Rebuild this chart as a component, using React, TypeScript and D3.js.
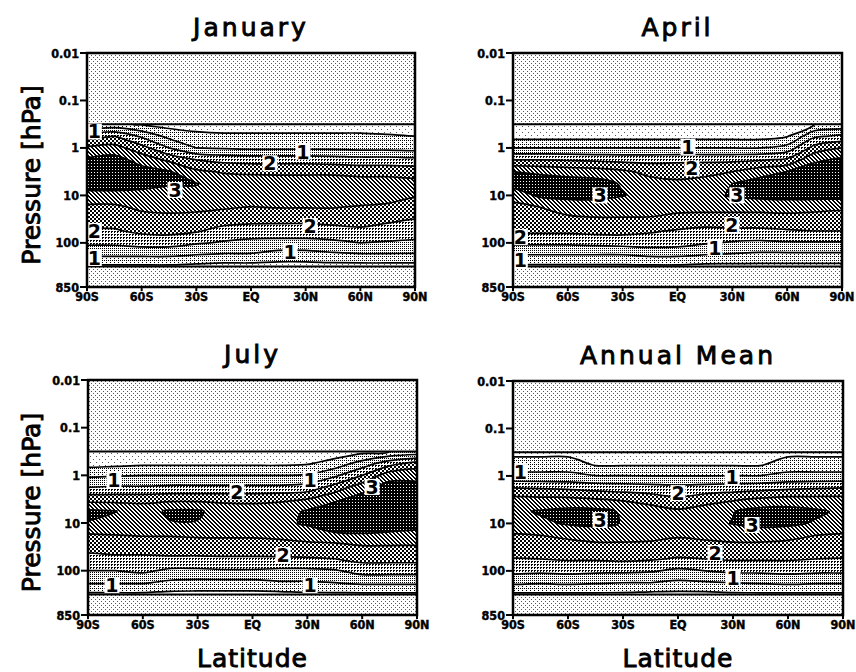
import React from "react";
import * as d3 from "d3";

const W = 856;
const H = 672;

// grid: latitude columns and pressure rows (log10 hPa), data region 0.3 .. 300 hPa
const LATS = [-90, -75, -60, -45, -30, -15, 0, 15, 30, 45, 60, 75, 90];
const LOG_P = [-0.5, -0.25, 0, 0.25, 0.5, 0.75, 1, 1.25, 1.5, 1.75, 2, 2.25, 2.5];
const LEVELS = [0.5, 1, 1.5, 2, 2.5, 3];

const P_TICKS = [0.01, 0.1, 1, 10, 100, 850];
const P_LABELS = ["0.01", "0.1", "1", "10", "100", "850"];
const LAT_TICKS = [-90, -60, -30, 0, 30, 60, 90];
const LAT_LABELS = ["90S", "60S", "30S", "EQ", "30N", "60N", "90N"];

// one array per latitude column (90S..90N), values from 0.3 hPa down to 300 hPa
const JANUARY = [
  [0.4, 1.8, 2.6, 3.1, 3.4, 3.3, 2.8, 2.4, 2.2, 1.95, 1.6, 1.1, 0.4],
  [0.6, 2.0, 2.7, 3.2, 3.4, 3.3, 2.8, 2.4, 2.2, 1.95, 1.6, 1.1, 0.4],
  [0.45, 1.4, 2.2, 2.8, 3.2, 3.2, 2.8, 2.6, 2.3, 2.1, 1.7, 1.1, 0.4],
  [0.3, 0.85, 1.5, 2.4, 3.05, 3.05, 2.8, 2.6, 2.4, 2.15, 1.7, 1.1, 0.4],
  [0.25, 0.65, 1.0, 2.0, 2.6, 3.02, 2.9, 2.6, 2.35, 2.05, 1.55, 1.0, 0.35],
  [0.2, 0.6, 0.95, 1.85, 2.45, 2.8, 2.85, 2.55, 2.25, 1.8, 1.45, 0.95, 0.3],
  [0.2, 0.6, 0.9, 1.8, 2.4, 2.8, 2.9, 2.48, 2.2, 1.7, 1.4, 0.95, 0.3],
  [0.2, 0.6, 0.9, 1.8, 2.4, 2.75, 2.85, 2.52, 2.15, 1.75, 1.35, 0.8, 0.3],
  [0.2, 0.6, 0.9, 1.8, 2.4, 2.75, 2.85, 2.52, 2.15, 1.75, 1.35, 0.8, 0.3],
  [0.2, 0.6, 0.9, 1.75, 2.4, 2.75, 2.85, 2.52, 2.2, 1.8, 1.4, 0.9, 0.3],
  [0.2, 0.6, 0.85, 1.7, 2.35, 2.7, 2.8, 2.45, 2.2, 1.9, 1.5, 0.95, 0.3],
  [0.2, 0.55, 0.85, 1.7, 2.35, 2.7, 2.7, 2.4, 2.1, 1.8, 1.45, 0.95, 0.3],
  [0.2, 0.5, 0.8, 1.65, 2.3, 2.65, 2.55, 2.25, 2.0, 1.75, 1.4, 0.95, 0.3],
];

const APRIL = [
  [0.1, 0.3, 1.0, 2.0, 3.0, 3.2, 2.7, 2.35, 2.2, 2.1, 1.6, 1.0, 0.4],
  [0.1, 0.3, 1.0, 2.0, 2.9, 3.3, 3.1, 2.5, 2.25, 2.1, 1.6, 1.0, 0.4],
  [0.1, 0.3, 1.0, 1.95, 2.8, 3.25, 3.15, 2.7, 2.4, 2.1, 1.6, 1.0, 0.4],
  [0.1, 0.3, 1.0, 1.9, 2.75, 3.2, 3.15, 2.75, 2.45, 2.15, 1.65, 1.0, 0.4],
  [0.1, 0.3, 1.0, 1.85, 2.6, 2.95, 3.02, 2.75, 2.45, 2.15, 1.7, 1.0, 0.4],
  [0.1, 0.3, 1.0, 1.85, 2.35, 2.7, 2.85, 2.7, 2.45, 2.05, 1.75, 1.1, 0.4],
  [0.1, 0.3, 1.0, 1.9, 2.3, 2.6, 2.8, 2.65, 2.35, 1.95, 1.7, 1.1, 0.4],
  [0.1, 0.3, 1.0, 1.9, 2.35, 2.7, 2.85, 2.65, 2.3, 1.85, 1.55, 1.0, 0.35],
  [0.1, 0.3, 1.0, 1.9, 2.5, 3.0, 3.05, 2.65, 2.3, 1.9, 1.45, 0.95, 0.35],
  [0.1, 0.3, 1.0, 1.95, 2.8, 3.2, 3.15, 2.65, 2.3, 1.9, 1.4, 0.9, 0.35],
  [0.15, 0.45, 1.2, 2.1, 3.0, 3.3, 3.2, 2.65, 2.35, 1.95, 1.45, 0.9, 0.35],
  [0.5, 1.4, 2.2, 2.9, 3.3, 3.4, 3.2, 2.6, 2.35, 2.0, 1.45, 0.9, 0.35],
  [0.6, 1.6, 2.5, 3.1, 3.4, 3.4, 3.2, 2.55, 2.35, 2.0, 1.45, 0.9, 0.35],
];

const JULY = [
  [0.1, 0.3, 0.9, 1.5, 2.3, 3.08, 2.98, 2.45, 2.05, 1.95, 1.5, 1.05, 0.4],
  [0.1, 0.35, 0.95, 1.55, 2.3, 3.01, 2.9, 2.5, 2.1, 1.95, 1.5, 1.05, 0.4],
  [0.1, 0.4, 1.0, 1.55, 2.3, 2.85, 2.85, 2.55, 2.1, 1.95, 1.6, 1.05, 0.4],
  [0.1, 0.4, 1.0, 1.6, 2.35, 3.06, 2.98, 2.55, 2.15, 1.95, 1.4, 0.9, 0.35],
  [0.1, 0.4, 1.0, 1.6, 2.35, 3.06, 2.98, 2.6, 2.15, 1.95, 1.4, 0.85, 0.35],
  [0.1, 0.4, 1.0, 1.6, 2.35, 2.8, 2.8, 2.6, 2.2, 1.95, 1.45, 0.85, 0.35],
  [0.1, 0.4, 1.0, 1.6, 2.35, 2.75, 2.8, 2.6, 2.2, 1.95, 1.45, 0.85, 0.35],
  [0.1, 0.4, 1.0, 1.6, 2.4, 2.8, 2.85, 2.65, 2.25, 1.95, 1.4, 0.95, 0.35],
  [0.1, 0.45, 1.05, 1.7, 2.5, 3.05, 3.08, 2.7, 2.35, 1.95, 1.4, 0.95, 0.4],
  [0.2, 0.7, 1.4, 2.2, 2.9, 3.3, 3.35, 2.9, 2.3, 2.0, 1.45, 1.0, 0.4],
  [0.35, 1.2, 2.0, 2.8, 3.2, 3.4, 3.35, 2.95, 2.45, 2.15, 1.7, 1.1, 0.4],
  [0.5, 1.8, 2.8, 3.2, 3.4, 3.4, 3.3, 2.9, 2.45, 2.15, 1.7, 1.1, 0.4],
  [0.6, 2.2, 2.9, 3.1, 3.3, 3.35, 3.2, 2.85, 2.45, 2.15, 1.7, 1.1, 0.4],
];

const ANNUAL = [
  [0.3, 0.8, 1.1, 2.0, 2.7, 2.9, 2.8, 2.45, 2.25, 1.98, 1.65, 1.1, 0.4],
  [0.3, 0.8, 1.1, 1.95, 2.65, 3.05, 2.9, 2.5, 2.25, 2.0, 1.6, 1.05, 0.4],
  [0.3, 0.8, 1.1, 1.9, 2.65, 3.15, 3.05, 2.6, 2.3, 2.05, 1.65, 1.1, 0.4],
  [0.15, 0.42, 1.02, 1.8, 2.55, 3.15, 3.1, 2.7, 2.35, 2.05, 1.6, 1.05, 0.4],
  [0.15, 0.42, 1.02, 1.75, 2.45, 2.95, 2.98, 2.7, 2.35, 2.1, 1.6, 1.0, 0.4],
  [0.15, 0.42, 1.0, 1.7, 2.3, 2.75, 2.85, 2.65, 2.35, 2.05, 1.55, 1.0, 0.35],
  [0.15, 0.42, 1.0, 1.65, 2.1, 2.6, 2.8, 2.55, 2.3, 1.95, 1.4, 0.9, 0.35],
  [0.15, 0.42, 1.0, 1.7, 2.3, 2.75, 2.85, 2.6, 2.35, 2.0, 1.5, 0.95, 0.35],
  [0.15, 0.42, 1.02, 1.75, 2.45, 2.98, 3.02, 2.7, 2.35, 2.05, 1.6, 1.0, 0.4],
  [0.15, 0.42, 1.02, 1.8, 2.6, 3.2, 3.15, 2.7, 2.35, 2.05, 1.6, 1.05, 0.4],
  [0.3, 0.8, 1.1, 1.9, 2.7, 3.2, 3.1, 2.65, 2.3, 2.05, 1.65, 1.1, 0.4],
  [0.3, 0.8, 1.1, 1.95, 2.7, 3.08, 2.95, 2.5, 2.25, 2.0, 1.6, 1.05, 0.4],
  [0.3, 0.8, 1.1, 2.0, 2.7, 2.92, 2.8, 2.45, 2.25, 1.98, 1.6, 1.05, 0.4],
];

// contour labels: text, latitude, pressure (hPa)
const JAN_LABELS: [string, number, number][] = [
  ["1", -86, 0.45], ["2", -86, 56], ["1", -86, 208], ["1", 28.5, 1.2],
  ["2", 10.4, 2.1], ["3", -41.7, 7.7], ["2", 32.4, 44], ["1", 21.4, 155],
];
const APR_LABELS: [string, number, number][] = [
  ["1", 5.7, 0.95], ["2", 7.9, 2.7], ["3", -42.4, 10], ["3", 32.5, 10],
  ["2", 29.8, 42], ["1", 20.5, 128], ["2", -86, 75], ["1", -86, 230],
];
const JUL_LABELS: [string, number, number][] = [
  ["1", -75.8, 1.25], ["1", 31.5, 1.25], ["2", -8.5, 2.2], ["3", 65.4, 1.75],
  ["2", 16.7, 47], ["1", -76.9, 199], ["1", 31.5, 199],
];
const ANN_LABELS: [string, number, number][] = [
  ["1", -86, 0.83], ["1", 29.5, 1.05], ["2", 0, 2.3], ["3", -42.5, 8.5],
  ["3", 40.4, 10.8], ["2", 20.2, 42], ["1", 30, 141],
];

const TICK_FONT = '"DejaVu Sans Condensed", "DejaVu Sans", sans-serif';
const TITLE_FONT = '"DejaVu Sans", Verdana, sans-serif';

const dot = (x: number, y: number, fill = "#000", w = 1, h = 1) => (
  <rect key={`${x}-${y}-${w}`} x={x} y={y} width={w} height={h} fill={fill} />
);

function Patterns() {
  const pat = (id: string, size: number, bg: string, cells: JSX.Element[]) => (
    <pattern id={id} width={size} height={size} patternUnits="userSpaceOnUse">
      <g shapeRendering="crispEdges">
        <rect width={size} height={size} fill={bg} />
        {cells}
      </g>
    </pattern>
  );
  return (
    <defs>
      {pat("p-out", 4, "#fff", [dot(1, 1, "#555"), dot(3, 3, "#555")])}
      {pat("band0", 6, "#fff", [dot(0, 0, "#555"), dot(3, 3, "#555")])}
      {pat("band1", 4, "#fff", [dot(0, 0), dot(2, 2), dot(2, 0)])}
      {pat("band2", 2, "#fff", [dot(0, 0)])}
      {pat("band3", 3, "#fff", [dot(0, 0), dot(1, 0), dot(0, 1)])}
      {pat("band4", 4, "#fff", [dot(0, 0, "#000", 2, 2), dot(2, 2, "#000", 2, 2)])}
      {pat("band5", 4, "#fff", [0, 1, 2, 3].flatMap((i) => [dot(i, i), dot((i + 1) % 4, i)]))}
      {pat("band6", 3, "#000", [dot(1, 1, "#fff")])}
    </defs>
  );
}

type Box = { x0: number; x1: number; y0: number; y1: number };

function ContourPanel({ id, title, cols, labels, box, yTitle, xTitle }: {
  id: string; title: string; cols: number[][]; labels: [string, number, number][];
  box: Box; yTitle: boolean; xTitle: boolean;
}) {
  const { x0, x1, y0, y1 } = box;
  const x = d3.scaleLinear().domain([-90, 90]).range([x0, x1]);
  const y = d3.scaleLog().domain([0.01, 850]).range([y0, y1]);

  // pad one copy of the edge columns/rows so contour closing happens outside the plot
  const nx = cols.length + 2;
  const ny = cols[0].length + 2;
  const values: number[] = [];
  for (let j = 0; j < ny; j++) {
    const jj = Math.min(Math.max(j - 1, 0), ny - 3);
    for (let i = 0; i < nx; i++) {
      const ii = Math.min(Math.max(i - 1, 0), nx - 3);
      values.push(cols[ii][jj]);
    }
  }
  const contours = d3.contours().size([nx, ny]).thresholds(LEVELS)(values);
  const gLat = d3.scaleLinear().domain([1.5, nx - 1.5]).range([LATS[0], LATS[LATS.length - 1]]);
  const gLog = d3.scaleLinear().domain([1.5, ny - 1.5]).range([LOG_P[0], LOG_P[LOG_P.length - 1]]);
  const line = d3.line().curve(d3.curveCatmullRomClosed.alpha(0.5));
  const paths = contours.map((c) =>
    c.coordinates
      .flatMap((poly) =>
        poly.map((ring) =>
          line(ring.slice(0, -1).map(([a, b]) => [x(gLat(a)), y(Math.pow(10, gLog(b)))] as [number, number]))
        )
      )
      .join("")
  );

  const top = y(Math.pow(10, LOG_P[0]));
  const bot = y(Math.pow(10, LOG_P[LOG_P.length - 1]));
  const clipId = `clip-${id}`;
  const cx = (x0 + x1) / 2;

  return (
    <g>
      <clipPath id={clipId}>
        <rect x={x0} y={top} width={x1 - x0} height={bot - top} />
      </clipPath>
      <rect x={x0} y={y0} width={x1 - x0} height={y1 - y0} fill="url(#p-out)" />
      <g clipPath={`url(#${clipId})`}>
        <rect x={x0} y={top} width={x1 - x0} height={bot - top} fill="url(#band0)" />
        {paths.map((d, k) => (
          <path key={`f${k}`} d={d} fill={`url(#band${k + 1})`} fillRule="evenodd" />
        ))}
        {paths.map((d, k) => (
          <path key={`s${k}`} d={d} fill="none" stroke="#000" strokeWidth={1.7} />
        ))}
      </g>
      <line x1={x0} x2={x1} y1={top} y2={top} stroke="#000" strokeWidth={2} />
      <line x1={x0} x2={x1} y1={bot} y2={bot} stroke="#000" strokeWidth={2} />
      {labels.map(([t, lat, p], k) => (
        <g key={`l${k}`} transform={`translate(${x(lat)},${y(p)})`}>
          <rect x={-7.5} y={-8} width={15} height={16} fill="#fff" />
          <text textAnchor="middle" dy="0.36em" fontFamily={TITLE_FONT} fontWeight="bold" fontSize={19}>
            {t}
          </text>
        </g>
      ))}
      <rect x={x0} y={y0} width={x1 - x0} height={y1 - y0} fill="none" stroke="#000" strokeWidth={2.5} />
      {P_TICKS.map((p, k) => (
        <g key={`py${k}`}>
          <line x1={x0 - 7} x2={x0} y1={y(p)} y2={y(p)} stroke="#000" strokeWidth={2} />
          <text x={x0 - 8} y={y(p)} dy="0.36em" textAnchor="end" fontFamily={TICK_FONT}
            fontWeight="bold" fontSize={12.5} stroke="#000" strokeWidth={0.4}>
            {P_LABELS[k]}
          </text>
        </g>
      ))}
      {LAT_TICKS.map((lat, k) => (
        <g key={`lx${k}`}>
          <line x1={x(lat)} x2={x(lat)} y1={y1} y2={y1 + 4} stroke="#000" strokeWidth={2} />
          <text x={x(lat)} y={y1 + 14} textAnchor="middle" fontFamily={TICK_FONT} fontWeight="bold"
            fontSize={12.5} stroke="#000" strokeWidth={0.4}>
            {LAT_LABELS[k]}
          </text>
        </g>
      ))}
      <text x={cx} y={y0 - 17} textAnchor="middle" fontFamily={TITLE_FONT} fontSize={25} letterSpacing={3}
        stroke="#000" strokeWidth={0.9}>
        {title}
      </text>
      {yTitle && (
        <text transform={`translate(40,${(y0 + y1) / 2 + 5}) rotate(-90)`} textAnchor="middle"
          fontFamily={TITLE_FONT} fontSize={25} stroke="#000" strokeWidth={0.9}>
          Pressure [hPa]
        </text>
      )}
      {xTitle && (
        <text x={cx} y={y1 + 52} textAnchor="middle" fontFamily={TITLE_FONT} fontSize={25} letterSpacing={1}
          stroke="#000" strokeWidth={0.9}>
          Latitude
        </text>
      )}
    </g>
  );
}

export default function App() {
  return (
    <svg width={W} height={H} style={{ position: "absolute", left: 0, top: 0, background: "#fff" }}>
      <Patterns />
      <ContourPanel id="jan" title="January" cols={JANUARY} labels={JAN_LABELS}
        box={{ x0: 87, x1: 415, y0: 53, y1: 287 }} yTitle xTitle={false} />
      <ContourPanel id="apr" title="April" cols={APRIL} labels={APR_LABELS}
        box={{ x0: 513, x1: 842, y0: 53, y1: 287 }} yTitle={false} xTitle={false} />
      <ContourPanel id="jul" title="July" cols={JULY} labels={JUL_LABELS}
        box={{ x0: 88, x1: 417, y0: 380, y1: 615 }} yTitle xTitle />
      <ContourPanel id="ann" title="Annual Mean" cols={ANNUAL} labels={ANN_LABELS}
        box={{ x0: 513, x1: 843, y0: 381, y1: 615 }} yTitle={false} xTitle />
    </svg>
  );
}
